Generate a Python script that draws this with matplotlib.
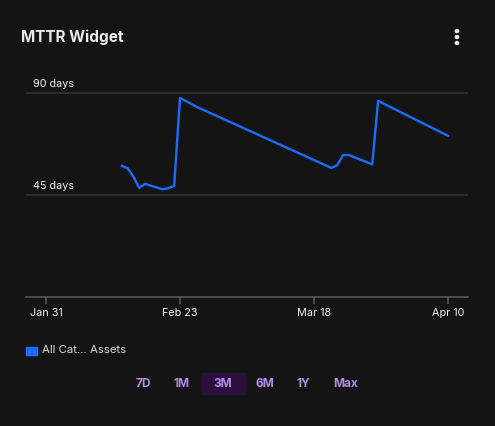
import numpy as np
import pandas as pd
import matplotlib
matplotlib.use("Agg")
import matplotlib.pyplot as plt
import matplotlib.dates as mdates
from matplotlib.patches import Rectangle

plt.rcParams['font.family'] = ['Inter', 'DejaVu Sans']

# MTTR values (days)
dates = ["2025-02-13", "2025-02-14", "2025-02-15", "2025-02-16", "2025-02-17",
         "2025-02-20", "2025-02-21", "2025-02-22", "2025-02-23", "2025-02-26",
         "2025-03-21", "2025-03-22", "2025-03-23", "2025-03-24", "2025-03-28",
         "2025-03-29", "2025-04-10"]
mttr = [57.8, 56.8, 53.1, 48.1, 49.9,
        47.5, 48.0, 49.0, 87.8, 83.7,
        56.9, 58.2, 62.6, 62.6, 58.5,
        86.5, 71.1]
series_name = "All Cat... Assets"
tick_dates = ["2025-01-31", "2025-02-23", "2025-03-18", "2025-04-10"]
tick_labels = ["Jan 31", "Feb 23", "Mar 18", "Apr 10"]
ytick_vals = [45, 90]
ytick_labels = ["45 days", "90 days"]
ranges = ["7D", "1M", "3M", "6M", "1Y", "Max"]
active_range = "3M"

W, H = 495, 426
bg = "#141414"
fig = plt.figure(figsize=(W / 100, H / 100), dpi=100, facecolor=bg)

# axes: x 26..468 px, y 80..297 px
ax = fig.add_axes([26 / W, 1 - 297 / H, 442 / W, 217 / H], facecolor=bg)
x = pd.to_datetime(dates)
ax.plot(x, mttr, color="#1a6dff", lw=1.7, solid_joinstyle="round", zorder=3)

t0 = pd.Timestamp("2025-01-31")
ax.set_xlim(t0 - pd.Timedelta(days=3.43), t0 + pd.Timedelta(days=72.43))
ax.set_ylim(0, 95.7)

for v, lab in zip(ytick_vals, ytick_labels):
    ax.axhline(v, color="#333333", lw=1.2, zorder=1)
    ax.text(7 / 442, v + 1.6, lab, transform=ax.get_yaxis_transform(),
            color="#f2f2f2", fontsize=7.8, va="bottom", ha="left")

ax.set_yticks([])
ax.set_xticks(pd.to_datetime(tick_dates))
ax.set_xticklabels(tick_labels)
ax.tick_params(axis="x", colors="#555555", length=5, width=1.2, labelcolor="#f2f2f2",
               labelsize=7.8, pad=3)
for s in ["top", "right", "left"]:
    ax.spines[s].set_visible(False)
ax.spines["bottom"].set_color("#555555")
ax.spines["bottom"].set_linewidth(1.2)

# title and menu dots
fig.text(21 / W, 1 - 37 / H, "MTTR Widget", color="#ececec", fontsize=11,
         fontweight="bold", va="center", ha="left")
for dy in [31, 37, 43]:
    fig.patches.append(plt.Circle((457 / W, 1 - dy / H), 1.7 / W, color="#ececec",
                                  transform=fig.transFigure))

# legend
fig.patches.append(Rectangle((26 / W, 1 - 355 / H), 11 / W, 8 / H, color="#1a6dff",
                             transform=fig.transFigure))
fig.text(42 / W, 1 - 350 / H, series_name, color="#d8d8d8", fontsize=8.2,
         va="center", ha="left")

# range buttons
btn_x = [143, 182, 223, 265, 303, 346]
for bx, r in zip(btn_x, ranges):
    if r == active_range:
        fig.patches.append(Rectangle((202 / W, 1 - 394 / H), 43 / W, 21 / H,
                                     color="#2d0f3d", transform=fig.transFigure))
    fig.text(bx / W, 1 - 384 / H, r, color="#b48ae8", fontsize=8.6,
             fontweight="bold", va="center", ha="center")

fig.savefig("out.png", dpi=100, facecolor=bg)
